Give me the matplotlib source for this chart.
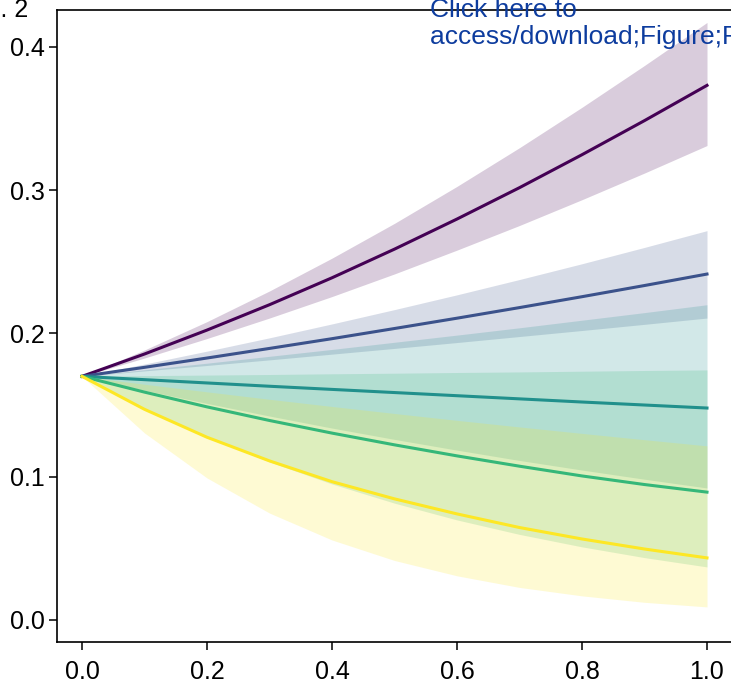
import matplotlib
matplotlib.use("Agg")
import matplotlib.pyplot as plt

plt.rcParams["font.family"] = ["Liberation Sans", "DejaVu Sans"]

# data
x = [0.0, 0.1, 0.2, 0.3, 0.4, 0.5, 0.6, 0.7, 0.8, 0.9, 1.0]

purple = [0.170, 0.1856, 0.2023, 0.2200, 0.2388, 0.2588, 0.2798, 0.3017, 0.3247, 0.3485, 0.3731]
purple_hi = [0.170, 0.1884, 0.2082, 0.2296, 0.2525, 0.2768, 0.3026, 0.3296, 0.3578, 0.3870, 0.4170]
purple_lo = [0.170, 0.1828, 0.1964, 0.2107, 0.2257, 0.2415, 0.2581, 0.2753, 0.2933, 0.3119, 0.3311]

blue = [0.170, 0.1763, 0.1828, 0.1895, 0.1963, 0.2034, 0.2106, 0.2180, 0.2256, 0.2334, 0.2414]
blue_hi = [0.170, 0.1786, 0.1876, 0.1969, 0.2066, 0.2166, 0.2269, 0.2376, 0.2486, 0.2600, 0.2717]
blue_lo = [0.170, 0.1738, 0.1776, 0.1815, 0.1855, 0.1895, 0.1936, 0.1978, 0.2020, 0.2063, 0.2107]

teal = [0.170, 0.1677, 0.1654, 0.1631, 0.1609, 0.1587, 0.1565, 0.1543, 0.1521, 0.1500, 0.1479]
teal_hi = [0.170, 0.1746, 0.1792, 0.1840, 0.1888, 0.1938, 0.1988, 0.2039, 0.2092, 0.2145, 0.2200]
teal_lo = [0.170, 0.1603, 0.1511, 0.1423, 0.1339, 0.1260, 0.1185, 0.1113, 0.1046, 0.0982, 0.0921]

green = [0.170, 0.1590, 0.1487, 0.1392, 0.1304, 0.1222, 0.1145, 0.1073, 0.1005, 0.0945, 0.0892]
green_hi = [0.170, 0.1705, 0.1709, 0.1713, 0.1718, 0.1722, 0.1727, 0.1731, 0.1736, 0.1741, 0.1745]
green_lo = [0.170, 0.1477, 0.1278, 0.1103, 0.0949, 0.0815, 0.0698, 0.0597, 0.0510, 0.0435, 0.0370]

yellow = [0.170, 0.1470, 0.1275, 0.1110, 0.0965, 0.0845, 0.0740, 0.0645, 0.0565, 0.0495, 0.0433]
yellow_hi = [0.170, 0.1645, 0.1592, 0.1540, 0.1490, 0.1441, 0.1393, 0.1347, 0.1302, 0.1258, 0.1215]
yellow_lo = [0.170, 0.1305, 0.0991, 0.0746, 0.0558, 0.0415, 0.0308, 0.0227, 0.0168, 0.0123, 0.0091]

colors = ["#440154", "#3B528B", "#21908C", "#35B779", "#FDE725"]
lines = [purple, blue, teal, green, yellow]
his = [purple_hi, blue_hi, teal_hi, green_hi, yellow_hi]
los = [purple_lo, blue_lo, teal_lo, green_lo, yellow_lo]

xticks = [0.0, 0.2, 0.4, 0.6, 0.8, 1.0]
yticks = [0.0, 0.1, 0.2, 0.3, 0.4]

fig = plt.figure(figsize=(7.31, 6.88), dpi=100)
ax = fig.add_axes([57 / 731, 1 - 642 / 688, 675 / 731, 632 / 688])

for lo, hi, c in zip(los, his, colors):
    ax.fill_between(x, lo, hi, color=c, alpha=0.2, lw=0)
for y, c in zip(lines, colors):
    ax.plot(x, y, color=c, lw=2.2)

ax.set_xlim(-0.04, 1.04)
ax.set_ylim(-0.0154, 0.4257)
ax.set_xticks(xticks)
ax.set_xticklabels(["%.1f" % t for t in xticks])
ax.set_yticks(yticks)
ax.set_yticklabels(["%.1f" % t for t in yticks])
ax.tick_params(axis="both", direction="out", length=6, width=1.1, labelsize=18)
ax.tick_params(axis="x", pad=7)
ax.tick_params(axis="y", pad=3)
for sp in ax.spines.values():
    sp.set_linewidth(1.2)

fig.text(28 / 731, 1 - 17 / 688, "Fig. 2", ha="right", va="baseline", fontsize=18)
fig.text(430 / 731, 1 - 17 / 688, "Click here to", ha="left", va="baseline",
         fontsize=19, color="#0d3c9e")
fig.text(430 / 731, 1 - 44 / 688, "access/download;Figure;Figure 2.pdf", ha="left",
         va="baseline", fontsize=19, color="#0d3c9e")

fig.savefig("out.png", dpi=100)
